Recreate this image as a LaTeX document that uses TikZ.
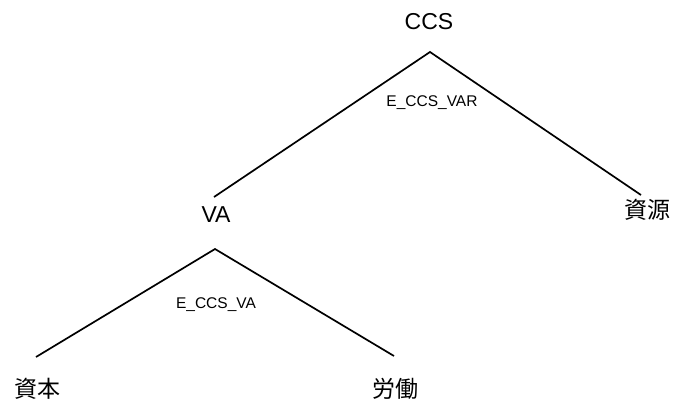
\documentclass[tikz,border=0pt]{standalone}
\usepackage{fontspec}
\setmainfont{Liberation Sans}
\newfontfamily\jpfont{Noto Sans CJK JP}
\usetikzlibrary{positioning}

\tikzset{
  cat/.style={font=\fontsize{23}{26}\selectfont, inner sep=0pt},
  catjp/.style={font=\fontsize{23}{26}\jpfont, inner sep=0pt},
  elas/.style={font=\fontsize{15.5}{18}\selectfont, inner sep=0pt},
  branch/.style={line width=1.7pt}
}

\begin{document}
\begin{tikzpicture}[x=1pt, y=-1pt]
  \useasboundingbox (0,0) rectangle (673,405);
  % upper nest
  \node[cat] (ccs) at (429,22) {CCS};
  \node[cat] (va)  at (216,215) {VA};
  \node[catjp] (res) at (647,210) {資源};
  \coordinate (ccstop) at (430,52);
  \coordinate (ccsl) at (214,197);
  \coordinate (ccsr) at (641,195);
  \draw[branch] (ccsl) -- (ccstop) -- (ccsr);
  \node[elas] (evar) at (432,103) {E\_CCS\_VAR};
  % lower nest
  \node[catjp] (cap) at (37,389) {資本};
  \node[catjp] (lab) at (395,389) {労働};
  \coordinate (vatop) at (215,249);
  \coordinate (val) at (36,357);
  \coordinate (var) at (394,356);
  \draw[branch] (val) -- (vatop) -- (var);
  \node[elas] (eva) at (216,305) {E\_CCS\_VA};
\end{tikzpicture}
\end{document}
